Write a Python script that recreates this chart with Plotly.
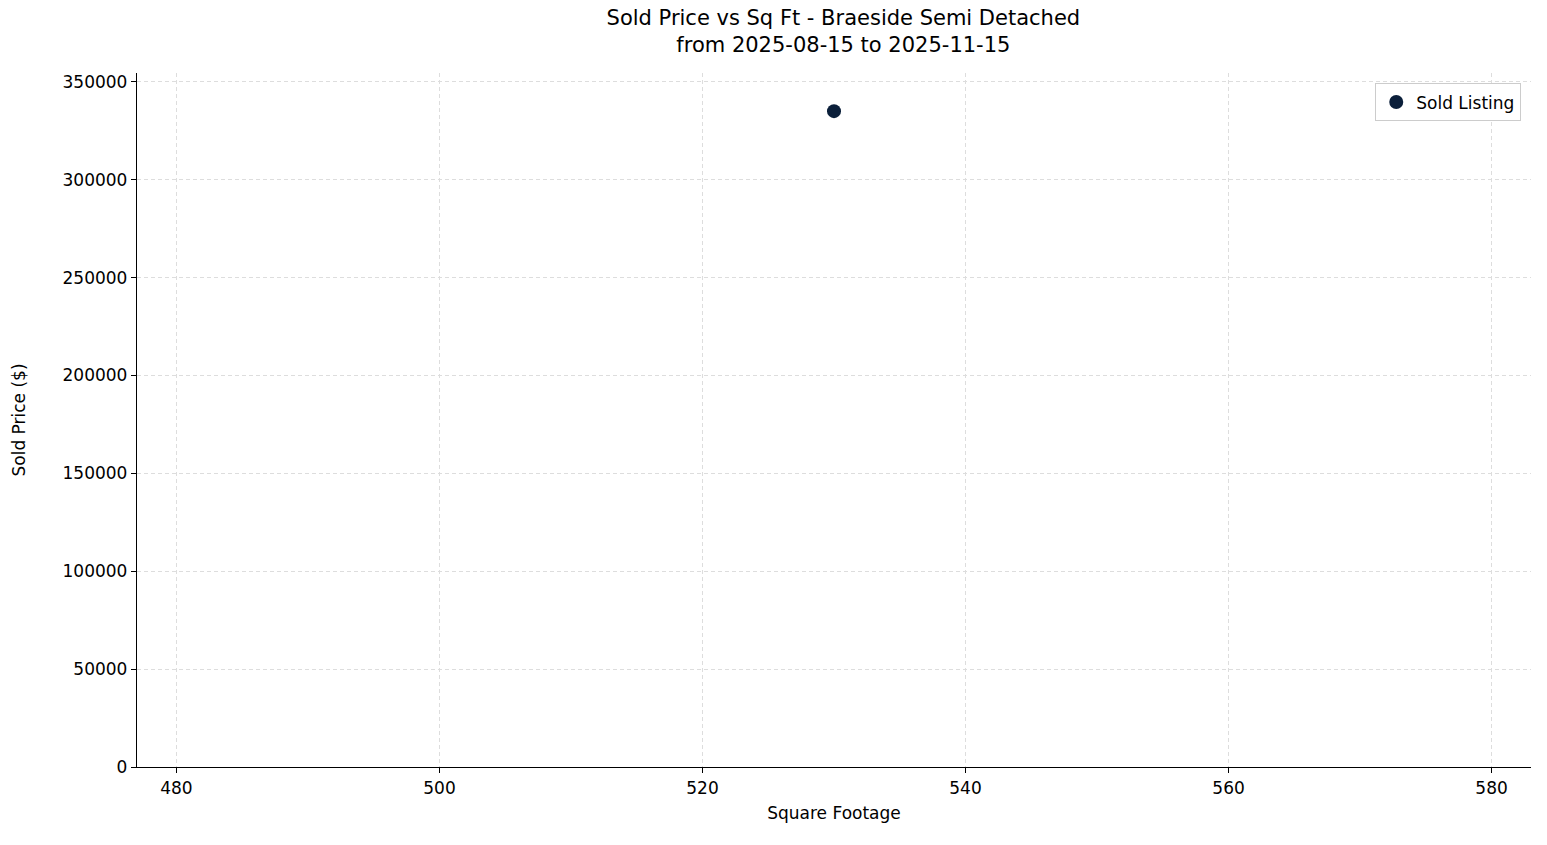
import plotly.graph_objects as go

sqft = [530]
price = [335000]
xticks = [480, 500, 520, 540, 560, 580]
yticks = [0, 50000, 100000, 150000, 200000, 250000, 300000, 350000]

fig = go.Figure(go.Scatter(x=sqft, y=price, mode="markers", name="Sold Listing",
                           marker=dict(color="#0b1f3a", size=14), showlegend=True))
axis_common = dict(showline=True, linecolor="black", linewidth=1.3, ticks="outside",
                   ticklen=5, tickcolor="black", showgrid=True, gridcolor="#dddddd",
                   griddash="4px,3px", gridwidth=0.7, zeroline=False, mirror=False,
                   tickfont=dict(size=17, color="black"))
fig.update_xaxes(range=[477, 583], tickvals=xticks,
                 title=dict(text="Square Footage", font=dict(size=17, color="black"), standoff=10),
                 **axis_common)
fig.update_yaxes(range=[0, 354500], tickvals=yticks, tickformat="d",
                 title=dict(text="Sold Price ($)", font=dict(size=17, color="black"), standoff=32),
                 **axis_common)
fig.update_layout(
    width=1547, height=845, plot_bgcolor="white", paper_bgcolor="white",
    font=dict(family="DejaVu Sans", color="black"),
    margin=dict(l=129, r=24, t=65, b=86),
    title=dict(text="Sold Price vs Sq Ft - Braeside Semi Detached<br>from 2025-08-15 to 2025-11-15",
               x=0.54, xanchor="center", y=0.98, yanchor="top", font=dict(size=21)),
    legend=dict(x=0.993, y=0.985, xanchor="right", yanchor="top", bordercolor="#cccccc",
                borderwidth=1, font=dict(size=17), bgcolor="white"),
)
fig.write_html("out.html")
